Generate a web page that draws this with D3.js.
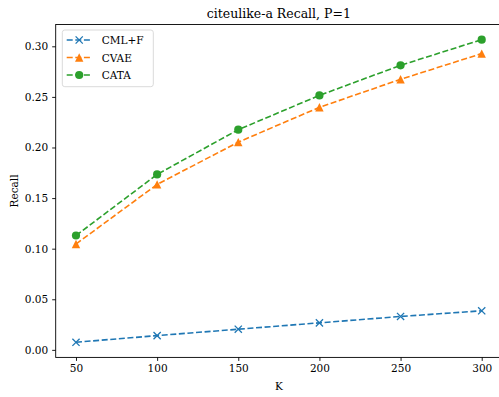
<!doctype html>
<html>
<head>
    <meta charset="UTF-8">
    <title>citeulike-a Recall</title>
    <script src="https://d3js.org/d3.v7.min.js" charset="utf-8"></script>
    <style>
        body { margin: 0; background: #fff; }
        svg text { font-family: "DejaVu Serif", "Liberation Serif", serif; fill: #000; }
    </style>
</head>
<body>
<svg id="chart" width="499" height="397"></svg>
<script>
    // values
    var kValues = [50, 100, 150, 200, 250, 300];
    var cmlf = [0.0075, 0.0141, 0.0204, 0.0267, 0.0330, 0.0386];
    var cvae = [0.1046, 0.1635, 0.2053, 0.2397, 0.2674, 0.2928];
    var cata = [0.1130, 0.1734, 0.2176, 0.2515, 0.2812, 0.3066];
    var yTicks = [0.00, 0.05, 0.10, 0.15, 0.20, 0.25, 0.30];

    var seriesNames = ["CML+F", "CVAE", "CATA"];
    var seriesColors = ["#1f77b4", "#ff7f0e", "#2ca02c"];
    var seriesMarkers = ["x", "triangle", "circle"];
    var seriesValues = [cmlf, cvae, cata];

    // axes box (right edge falls just outside the picture, as in the reference)
    var axLeft = 55.7, axRight = 502, axTop = 24.5, axBottom = 357.4;

    var svg = d3.select("#chart");

    // matplotlib-style 5% margins around the data
    var xPad = (d3.max(kValues) - d3.min(kValues)) * 0.05;
    var allY = d3.merge(seriesValues);
    var yPad = (d3.max(allY) - d3.min(allY)) * 0.05;

    var x = d3.scaleLinear()
        .domain([d3.min(kValues) - xPad, d3.max(kValues) + xPad])
        .range([axLeft, axRight]);
    var y = d3.scaleLinear()
        .domain([d3.min(allY) - yPad, d3.max(allY) + yPad])
        .range([axBottom, axTop]);

    // axes
    var xAxis = svg.append("g")
        .attr("transform", "translate(0," + axBottom + ")")
        .call(d3.axisBottom(x).tickValues(kValues).tickSize(3.5).tickPadding(4));
    var yAxis = svg.append("g")
        .attr("transform", "translate(" + axLeft + ",0)")
        .call(d3.axisLeft(y).tickValues(yTicks).tickFormat(d3.format(".2f")).tickSize(3.5).tickPadding(4));

    [xAxis, yAxis].forEach(function(a) {
        a.attr("font-family", null);
        a.select(".domain").remove();
        a.selectAll("line").attr("stroke", "#000").attr("stroke-width", 0.9);
        a.selectAll("text").attr("font-size", 10.5);
    });

    // series
    var line = d3.line()
        .x(function(d, i) { return x(kValues[i]); })
        .y(function(d) { return y(d); });

    function drawMarker(g, kind, color, cx, cy) {
        if (kind == "x") {
            var h = 3.6;
            g.append("path")
                .attr("d", "M" + (cx - h) + "," + (cy - h) + "L" + (cx + h) + "," + (cy + h) +
                           "M" + (cx - h) + "," + (cy + h) + "L" + (cx + h) + "," + (cy - h))
                .attr("stroke", color)
                .attr("stroke-width", 1.3)
                .attr("fill", "none");
        } else if (kind == "triangle") {
            var s = 4.2;
            g.append("path")
                .attr("d", "M" + cx + "," + (cy - s) + "L" + (cx - s) + "," + (cy + s) + "L" + (cx + s) + "," + (cy + s) + "Z")
                .attr("fill", color);
        } else {
            g.append("circle")
                .attr("cx", cx)
                .attr("cy", cy)
                .attr("r", 4.1)
                .attr("fill", color);
        }
    }

    var plot = svg.append("g");
    for (var s = 0; s < seriesValues.length; s++) {
        plot.append("path")
            .datum(seriesValues[s])
            .attr("d", line)
            .attr("fill", "none")
            .attr("stroke", seriesColors[s])
            .attr("stroke-width", 1.6)
            .attr("stroke-dasharray", "6,2.6");
        for (var i = 0; i < kValues.length; i++) {
            drawMarker(plot, seriesMarkers[s], seriesColors[s], x(kValues[i]), y(seriesValues[s][i]));
        }
    }

    // spines
    svg.append("rect")
        .attr("x", axLeft)
        .attr("y", axTop)
        .attr("width", axRight - axLeft)
        .attr("height", axBottom - axTop)
        .attr("fill", "none")
        .attr("stroke", "#000")
        .attr("stroke-width", 0.9);

    // legend
    var legend = svg.append("g");
    legend.append("rect")
        .attr("x", 62.3)
        .attr("y", 30)
        .attr("width", 91)
        .attr("height", 56.7)
        .attr("rx", 2.5)
        .attr("fill", "#fff")
        .attr("fill-opacity", 0.8)
        .attr("stroke", "#d6d6d6")
        .attr("stroke-width", 0.9);
    for (var s = 0; s < seriesNames.length; s++) {
        var ly = 40 + s * 17.5;
        legend.append("line")
            .attr("x1", 66.7).attr("x2", 91.7)
            .attr("y1", ly).attr("y2", ly)
            .attr("stroke", seriesColors[s])
            .attr("stroke-width", 1.6)
            .attr("stroke-dasharray", "6,2.6");
        drawMarker(legend, seriesMarkers[s], seriesColors[s], 79.2, ly);
        legend.append("text")
            .attr("x", 101.7)
            .attr("y", ly + 4)
            .attr("font-size", 10.5)
            .text(seriesNames[s]);
    }

    // labels
    svg.append("text")
        .attr("x", (axLeft + axRight) / 2)
        .attr("y", 18)
        .attr("text-anchor", "middle")
        .attr("font-size", 12.5)
        .text("citeulike-a Recall, P=1");
    svg.append("text")
        .attr("x", (axLeft + axRight) / 2)
        .attr("y", 390)
        .attr("text-anchor", "middle")
        .attr("font-size", 10.5)
        .text("K");
    svg.append("text")
        .attr("transform", "translate(18," + ((axTop + axBottom) / 2) + ") rotate(-90)")
        .attr("text-anchor", "middle")
        .attr("font-size", 10.5)
        .text("Recall");
</script>
</body>
</html>
